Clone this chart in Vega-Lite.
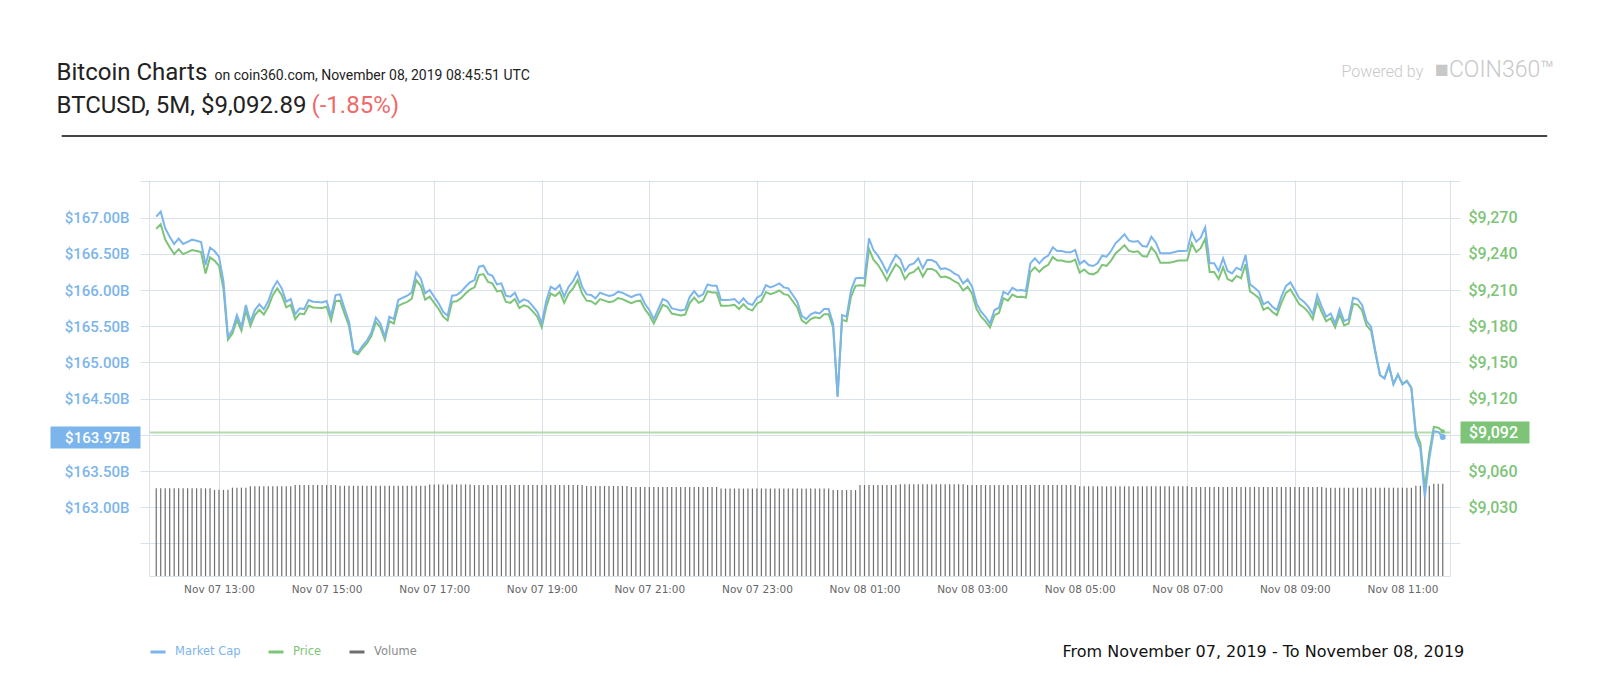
{
  "$schema": "https://vega.github.io/schema/vega-lite/v6.json",
  "width": 1301,
  "height": 396,
  "autosize": {"type": "none"},
  "padding": {"left": 149, "top": 180, "right": 150, "bottom": 124},
  "background": "#ffffff",
  "config": {"view": {"stroke": null}, "font": "Roboto"},
  "title": {"text": "■COIN360™", "anchor": "start", "frame": "group", "align": "left", "dx": 1286, "offset": -22, "font": "Roboto", "fontSize": 23, "fontWeight": 300, "color": "#c8c8c8"},
  "data": {"values": [
{"t":"2019-11-07T11:50","cap":167.014,"price":9260.8,"vol":20.15},
{"t":"2019-11-07T11:55","cap":167.083,"price":9264.6,"vol":20.15},
{"t":"2019-11-07T12:00","cap":166.853,"price":9251.8,"vol":20.15},
{"t":"2019-11-07T12:05","cap":166.737,"price":9245.4,"vol":20.15},
{"t":"2019-11-07T12:10","cap":166.636,"price":9239.8,"vol":20.15},
{"t":"2019-11-07T12:15","cap":166.710,"price":9243.9,"vol":20.15},
{"t":"2019-11-07T12:20","cap":166.636,"price":9239.8,"vol":20.15},
{"t":"2019-11-07T12:25","cap":166.664,"price":9241.4,"vol":20.15},
{"t":"2019-11-07T12:30","cap":166.696,"price":9243.1,"vol":20.15},
{"t":"2019-11-07T12:35","cap":166.682,"price":9242.4,"vol":20.15},
{"t":"2019-11-07T12:40","cap":166.664,"price":9241.4,"vol":20.15},
{"t":"2019-11-07T12:45","cap":166.346,"price":9223.7,"vol":20.15},
{"t":"2019-11-07T12:50","cap":166.585,"price":9237.0,"vol":20.15},
{"t":"2019-11-07T12:55","cap":166.539,"price":9234.4,"vol":19.8},
{"t":"2019-11-07T13:00","cap":166.461,"price":9230.1,"vol":19.8},
{"t":"2019-11-07T13:05","cap":166.115,"price":9210.9,"vol":19.8},
{"t":"2019-11-07T13:10","cap":165.355,"price":9168.8,"vol":19.8},
{"t":"2019-11-07T13:15","cap":165.447,"price":9173.9,"vol":20.3},
{"t":"2019-11-07T13:20","cap":165.654,"price":9185.3,"vol":20.3},
{"t":"2019-11-07T13:25","cap":165.493,"price":9176.4,"vol":20.3},
{"t":"2019-11-07T13:30","cap":165.793,"price":9193.1,"vol":20.3},
{"t":"2019-11-07T13:35","cap":165.562,"price":9180.2,"vol":20.6},
{"t":"2019-11-07T13:40","cap":165.724,"price":9189.2,"vol":20.6},
{"t":"2019-11-07T13:45","cap":165.802,"price":9193.6,"vol":20.6},
{"t":"2019-11-07T13:50","cap":165.733,"price":9189.7,"vol":20.6},
{"t":"2019-11-07T13:55","cap":165.848,"price":9196.1,"vol":20.6},
{"t":"2019-11-07T14:00","cap":166.023,"price":9205.8,"vol":20.6},
{"t":"2019-11-07T14:05","cap":166.124,"price":9211.4,"vol":20.6},
{"t":"2019-11-07T14:10","cap":166.023,"price":9205.8,"vol":20.6},
{"t":"2019-11-07T14:15","cap":165.839,"price":9195.6,"vol":20.6},
{"t":"2019-11-07T14:20","cap":165.876,"price":9197.7,"vol":20.6},
{"t":"2019-11-07T14:25","cap":165.664,"price":9185.9,"vol":20.9},
{"t":"2019-11-07T14:30","cap":165.747,"price":9190.5,"vol":20.9},
{"t":"2019-11-07T14:35","cap":165.737,"price":9190.0,"vol":20.9},
{"t":"2019-11-07T14:40","cap":165.862,"price":9196.9,"vol":20.9},
{"t":"2019-11-07T14:45","cap":165.839,"price":9195.6,"vol":20.9},
{"t":"2019-11-07T14:50","cap":165.834,"price":9195.3,"vol":20.9},
{"t":"2019-11-07T14:55","cap":165.829,"price":9195.1,"vol":20.9},
{"t":"2019-11-07T15:00","cap":165.848,"price":9196.1,"vol":20.9},
{"t":"2019-11-07T15:05","cap":165.645,"price":9184.8,"vol":20.9},
{"t":"2019-11-07T15:10","cap":165.931,"price":9200.7,"vol":20.9},
{"t":"2019-11-07T15:15","cap":165.940,"price":9201.2,"vol":20.75},
{"t":"2019-11-07T15:20","cap":165.747,"price":9190.5,"vol":20.75},
{"t":"2019-11-07T15:25","cap":165.562,"price":9180.2,"vol":20.75},
{"t":"2019-11-07T15:30","cap":165.171,"price":9158.6,"vol":20.75},
{"t":"2019-11-07T15:35","cap":165.138,"price":9156.7,"vol":20.75},
{"t":"2019-11-07T15:40","cap":165.230,"price":9161.8,"vol":20.75},
{"t":"2019-11-07T15:45","cap":165.300,"price":9165.7,"vol":20.75},
{"t":"2019-11-07T15:50","cap":165.415,"price":9172.1,"vol":20.75},
{"t":"2019-11-07T15:55","cap":165.618,"price":9183.4,"vol":20.75},
{"t":"2019-11-07T16:00","cap":165.539,"price":9179.0,"vol":20.75},
{"t":"2019-11-07T16:05","cap":165.355,"price":9168.8,"vol":20.75},
{"t":"2019-11-07T16:10","cap":165.631,"price":9184.1,"vol":20.75},
{"t":"2019-11-07T16:15","cap":165.599,"price":9182.3,"vol":20.75},
{"t":"2019-11-07T16:20","cap":165.862,"price":9196.9,"vol":20.75},
{"t":"2019-11-07T16:25","cap":165.894,"price":9198.7,"vol":20.75},
{"t":"2019-11-07T16:30","cap":165.922,"price":9200.2,"vol":20.75},
{"t":"2019-11-07T16:35","cap":165.968,"price":9202.8,"vol":20.75},
{"t":"2019-11-07T16:40","cap":166.244,"price":9218.1,"vol":20.75},
{"t":"2019-11-07T16:45","cap":166.161,"price":9213.5,"vol":20.75},
{"t":"2019-11-07T16:50","cap":165.954,"price":9202.0,"vol":20.75},
{"t":"2019-11-07T16:55","cap":166.000,"price":9204.5,"vol":21.05},
{"t":"2019-11-07T17:00","cap":165.908,"price":9199.4,"vol":21.05},
{"t":"2019-11-07T17:05","cap":165.816,"price":9194.3,"vol":21.05},
{"t":"2019-11-07T17:10","cap":165.700,"price":9187.9,"vol":21.05},
{"t":"2019-11-07T17:15","cap":165.645,"price":9184.8,"vol":21.05},
{"t":"2019-11-07T17:20","cap":165.922,"price":9200.2,"vol":21.05},
{"t":"2019-11-07T17:25","cap":165.931,"price":9200.7,"vol":21.05},
{"t":"2019-11-07T17:30","cap":165.977,"price":9203.3,"vol":21.05},
{"t":"2019-11-07T17:35","cap":166.046,"price":9207.1,"vol":21.05},
{"t":"2019-11-07T17:40","cap":166.106,"price":9210.4,"vol":21.05},
{"t":"2019-11-07T17:45","cap":166.138,"price":9212.2,"vol":20.9},
{"t":"2019-11-07T17:50","cap":166.323,"price":9222.4,"vol":20.9},
{"t":"2019-11-07T17:55","cap":166.336,"price":9223.2,"vol":20.9},
{"t":"2019-11-07T18:00","cap":166.221,"price":9216.8,"vol":20.9},
{"t":"2019-11-07T18:05","cap":166.198,"price":9215.5,"vol":20.9},
{"t":"2019-11-07T18:10","cap":166.078,"price":9208.9,"vol":20.9},
{"t":"2019-11-07T18:15","cap":166.092,"price":9209.6,"vol":20.9},
{"t":"2019-11-07T18:20","cap":165.922,"price":9200.2,"vol":20.9},
{"t":"2019-11-07T18:25","cap":165.908,"price":9199.4,"vol":20.9},
{"t":"2019-11-07T18:30","cap":165.963,"price":9202.5,"vol":20.9},
{"t":"2019-11-07T18:35","cap":165.829,"price":9195.1,"vol":20.9},
{"t":"2019-11-07T18:40","cap":165.871,"price":9197.4,"vol":20.9},
{"t":"2019-11-07T18:45","cap":165.848,"price":9196.1,"vol":20.9},
{"t":"2019-11-07T18:50","cap":165.779,"price":9192.3,"vol":20.9},
{"t":"2019-11-07T18:55","cap":165.700,"price":9187.9,"vol":20.9},
{"t":"2019-11-07T19:00","cap":165.539,"price":9179.0,"vol":20.9},
{"t":"2019-11-07T19:05","cap":165.848,"price":9196.1,"vol":20.9},
{"t":"2019-11-07T19:10","cap":166.046,"price":9207.1,"vol":20.9},
{"t":"2019-11-07T19:15","cap":166.009,"price":9205.0,"vol":20.9},
{"t":"2019-11-07T19:20","cap":166.069,"price":9208.4,"vol":20.9},
{"t":"2019-11-07T19:25","cap":165.908,"price":9199.4,"vol":20.9},
{"t":"2019-11-07T19:30","cap":166.046,"price":9207.1,"vol":20.9},
{"t":"2019-11-07T19:35","cap":166.124,"price":9211.4,"vol":20.9},
{"t":"2019-11-07T19:40","cap":166.244,"price":9218.1,"vol":20.9},
{"t":"2019-11-07T19:45","cap":166.046,"price":9207.1,"vol":20.9},
{"t":"2019-11-07T19:50","cap":165.940,"price":9201.2,"vol":20.7},
{"t":"2019-11-07T19:55","cap":165.931,"price":9200.7,"vol":20.7},
{"t":"2019-11-07T20:00","cap":165.885,"price":9198.2,"vol":20.7},
{"t":"2019-11-07T20:05","cap":165.963,"price":9202.5,"vol":20.7},
{"t":"2019-11-07T20:10","cap":165.940,"price":9201.2,"vol":20.7},
{"t":"2019-11-07T20:15","cap":165.917,"price":9199.9,"vol":20.7},
{"t":"2019-11-07T20:20","cap":165.931,"price":9200.7,"vol":20.7},
{"t":"2019-11-07T20:25","cap":165.977,"price":9203.3,"vol":20.7},
{"t":"2019-11-07T20:30","cap":165.963,"price":9202.5,"vol":20.7},
{"t":"2019-11-07T20:35","cap":165.931,"price":9200.7,"vol":20.7},
{"t":"2019-11-07T20:40","cap":165.903,"price":9199.2,"vol":20.45},
{"t":"2019-11-07T20:45","cap":165.931,"price":9200.7,"vol":20.45},
{"t":"2019-11-07T20:50","cap":165.940,"price":9201.2,"vol":20.45},
{"t":"2019-11-07T20:55","cap":165.811,"price":9194.1,"vol":20.45},
{"t":"2019-11-07T21:00","cap":165.724,"price":9189.2,"vol":20.45},
{"t":"2019-11-07T21:05","cap":165.599,"price":9182.3,"vol":20.45},
{"t":"2019-11-07T21:10","cap":165.737,"price":9190.0,"vol":20.45},
{"t":"2019-11-07T21:15","cap":165.876,"price":9197.7,"vol":20.45},
{"t":"2019-11-07T21:20","cap":165.848,"price":9196.1,"vol":20.45},
{"t":"2019-11-07T21:25","cap":165.747,"price":9190.5,"vol":20.45},
{"t":"2019-11-07T21:30","cap":165.733,"price":9189.7,"vol":20.45},
{"t":"2019-11-07T21:35","cap":165.719,"price":9189.0,"vol":20.45},
{"t":"2019-11-07T21:40","cap":165.733,"price":9189.7,"vol":20.45},
{"t":"2019-11-07T21:45","cap":165.903,"price":9199.2,"vol":20.45},
{"t":"2019-11-07T21:50","cap":165.986,"price":9203.8,"vol":20.45},
{"t":"2019-11-07T21:55","cap":165.908,"price":9199.4,"vol":20.45},
{"t":"2019-11-07T22:00","cap":165.940,"price":9201.2,"vol":20.45},
{"t":"2019-11-07T22:05","cap":166.078,"price":9208.9,"vol":20.45},
{"t":"2019-11-07T22:10","cap":166.060,"price":9207.9,"vol":20.45},
{"t":"2019-11-07T22:15","cap":166.060,"price":9207.9,"vol":20.45},
{"t":"2019-11-07T22:20","cap":165.862,"price":9196.9,"vol":20.1},
{"t":"2019-11-07T22:25","cap":165.862,"price":9196.9,"vol":20.1},
{"t":"2019-11-07T22:30","cap":165.866,"price":9197.1,"vol":20.1},
{"t":"2019-11-07T22:35","cap":165.876,"price":9197.7,"vol":20.1},
{"t":"2019-11-07T22:40","cap":165.816,"price":9194.3,"vol":20.1},
{"t":"2019-11-07T22:45","cap":165.885,"price":9198.2,"vol":20.1},
{"t":"2019-11-07T22:50","cap":165.816,"price":9194.3,"vol":20.1},
{"t":"2019-11-07T22:55","cap":165.793,"price":9193.1,"vol":20.1},
{"t":"2019-11-07T23:00","cap":165.894,"price":9198.7,"vol":20.1},
{"t":"2019-11-07T23:05","cap":165.931,"price":9200.7,"vol":20.1},
{"t":"2019-11-07T23:10","cap":166.069,"price":9208.4,"vol":20.1},
{"t":"2019-11-07T23:15","cap":166.037,"price":9206.6,"vol":20.1},
{"t":"2019-11-07T23:20","cap":166.060,"price":9207.9,"vol":20.1},
{"t":"2019-11-07T23:25","cap":166.092,"price":9209.6,"vol":20.1},
{"t":"2019-11-07T23:30","cap":166.037,"price":9206.6,"vol":20.1},
{"t":"2019-11-07T23:35","cap":166.023,"price":9205.8,"vol":20.1},
{"t":"2019-11-07T23:40","cap":165.931,"price":9200.7,"vol":20.1},
{"t":"2019-11-07T23:45","cap":165.839,"price":9195.6,"vol":20.1},
{"t":"2019-11-07T23:50","cap":165.645,"price":9184.8,"vol":20.1},
{"t":"2019-11-07T23:55","cap":165.599,"price":9182.3,"vol":20.1},
{"t":"2019-11-08T00:00","cap":165.664,"price":9185.9,"vol":20.1},
{"t":"2019-11-08T00:05","cap":165.691,"price":9187.4,"vol":20.1},
{"t":"2019-11-08T00:10","cap":165.677,"price":9186.6,"vol":20.1},
{"t":"2019-11-08T00:15","cap":165.737,"price":9190.0,"vol":20.1},
{"t":"2019-11-08T00:20","cap":165.737,"price":9190.0,"vol":20.1},
{"t":"2019-11-08T00:25","cap":165.539,"price":9179.0,"vol":19.75},
{"t":"2019-11-08T00:30","cap":164.525,"price":9122.7,"vol":19.75},
{"t":"2019-11-08T00:35","cap":165.654,"price":9185.3,"vol":19.75},
{"t":"2019-11-08T00:40","cap":165.631,"price":9184.1,"vol":19.75},
{"t":"2019-11-08T00:45","cap":166.000,"price":9204.5,"vol":19.75},
{"t":"2019-11-08T00:50","cap":166.161,"price":9213.5,"vol":19.75},
{"t":"2019-11-08T00:55","cap":166.171,"price":9214.0,"vol":20.9},
{"t":"2019-11-08T01:00","cap":166.161,"price":9213.5,"vol":20.9},
{"t":"2019-11-08T01:05","cap":166.714,"price":9244.1,"vol":20.9},
{"t":"2019-11-08T01:10","cap":166.553,"price":9235.2,"vol":20.9},
{"t":"2019-11-08T01:15","cap":166.475,"price":9230.9,"vol":20.9},
{"t":"2019-11-08T01:20","cap":166.369,"price":9225.0,"vol":20.9},
{"t":"2019-11-08T01:25","cap":166.244,"price":9218.1,"vol":20.9},
{"t":"2019-11-08T01:30","cap":166.369,"price":9225.0,"vol":20.9},
{"t":"2019-11-08T01:35","cap":166.484,"price":9231.4,"vol":20.9},
{"t":"2019-11-08T01:40","cap":166.424,"price":9228.0,"vol":21.1},
{"t":"2019-11-08T01:45","cap":166.263,"price":9219.1,"vol":21.1},
{"t":"2019-11-08T01:50","cap":166.346,"price":9223.7,"vol":21.1},
{"t":"2019-11-08T01:55","cap":166.369,"price":9225.0,"vol":21.1},
{"t":"2019-11-08T02:00","cap":166.438,"price":9228.8,"vol":21.1},
{"t":"2019-11-08T02:05","cap":166.300,"price":9221.2,"vol":21.1},
{"t":"2019-11-08T02:10","cap":166.415,"price":9227.5,"vol":21.1},
{"t":"2019-11-08T02:15","cap":166.415,"price":9227.5,"vol":21.1},
{"t":"2019-11-08T02:20","cap":166.382,"price":9225.7,"vol":21.1},
{"t":"2019-11-08T02:25","cap":166.290,"price":9220.6,"vol":21.1},
{"t":"2019-11-08T02:30","cap":166.300,"price":9221.2,"vol":21.1},
{"t":"2019-11-08T02:35","cap":166.276,"price":9219.8,"vol":21.1},
{"t":"2019-11-08T02:40","cap":166.230,"price":9217.3,"vol":21.1},
{"t":"2019-11-08T02:45","cap":166.198,"price":9215.5,"vol":21.1},
{"t":"2019-11-08T02:50","cap":166.092,"price":9209.6,"vol":21.1},
{"t":"2019-11-08T02:55","cap":166.147,"price":9212.7,"vol":20.9},
{"t":"2019-11-08T03:00","cap":166.046,"price":9207.1,"vol":20.9},
{"t":"2019-11-08T03:05","cap":165.816,"price":9194.3,"vol":20.9},
{"t":"2019-11-08T03:10","cap":165.700,"price":9187.9,"vol":20.9},
{"t":"2019-11-08T03:15","cap":165.631,"price":9184.1,"vol":20.9},
{"t":"2019-11-08T03:20","cap":165.539,"price":9179.0,"vol":20.9},
{"t":"2019-11-08T03:25","cap":165.724,"price":9189.2,"vol":20.9},
{"t":"2019-11-08T03:30","cap":165.756,"price":9191.0,"vol":20.9},
{"t":"2019-11-08T03:35","cap":165.977,"price":9203.3,"vol":20.9},
{"t":"2019-11-08T03:40","cap":165.940,"price":9201.2,"vol":20.9},
{"t":"2019-11-08T03:45","cap":166.032,"price":9206.3,"vol":20.9},
{"t":"2019-11-08T03:50","cap":165.995,"price":9204.3,"vol":20.9},
{"t":"2019-11-08T03:55","cap":166.000,"price":9204.5,"vol":20.9},
{"t":"2019-11-08T04:00","cap":165.986,"price":9203.8,"vol":20.9},
{"t":"2019-11-08T04:05","cap":166.369,"price":9225.0,"vol":20.9},
{"t":"2019-11-08T04:10","cap":166.438,"price":9228.8,"vol":20.9},
{"t":"2019-11-08T04:15","cap":166.369,"price":9225.0,"vol":20.9},
{"t":"2019-11-08T04:20","cap":166.438,"price":9228.8,"vol":20.9},
{"t":"2019-11-08T04:25","cap":166.475,"price":9230.9,"vol":20.9},
{"t":"2019-11-08T04:30","cap":166.590,"price":9237.3,"vol":20.9},
{"t":"2019-11-08T04:35","cap":166.539,"price":9234.4,"vol":20.9},
{"t":"2019-11-08T04:40","cap":166.539,"price":9234.4,"vol":20.9},
{"t":"2019-11-08T04:45","cap":166.521,"price":9233.4,"vol":20.9},
{"t":"2019-11-08T04:50","cap":166.521,"price":9233.4,"vol":20.9},
{"t":"2019-11-08T04:55","cap":166.553,"price":9235.2,"vol":20.9},
{"t":"2019-11-08T05:00","cap":166.359,"price":9224.4,"vol":20.6},
{"t":"2019-11-08T05:05","cap":166.406,"price":9227.0,"vol":20.6},
{"t":"2019-11-08T05:10","cap":166.346,"price":9223.7,"vol":20.6},
{"t":"2019-11-08T05:15","cap":166.332,"price":9223.0,"vol":20.6},
{"t":"2019-11-08T05:20","cap":166.369,"price":9225.0,"vol":20.6},
{"t":"2019-11-08T05:25","cap":166.475,"price":9230.9,"vol":20.6},
{"t":"2019-11-08T05:30","cap":166.461,"price":9230.1,"vol":20.6},
{"t":"2019-11-08T05:35","cap":166.539,"price":9234.4,"vol":20.6},
{"t":"2019-11-08T05:40","cap":166.645,"price":9240.3,"vol":20.6},
{"t":"2019-11-08T05:45","cap":166.705,"price":9243.6,"vol":20.6},
{"t":"2019-11-08T05:50","cap":166.770,"price":9247.2,"vol":20.6},
{"t":"2019-11-08T05:55","cap":166.682,"price":9242.4,"vol":20.6},
{"t":"2019-11-08T06:00","cap":166.668,"price":9241.6,"vol":20.6},
{"t":"2019-11-08T06:05","cap":166.677,"price":9242.1,"vol":20.6},
{"t":"2019-11-08T06:10","cap":166.608,"price":9238.2,"vol":20.6},
{"t":"2019-11-08T06:15","cap":166.599,"price":9237.7,"vol":20.6},
{"t":"2019-11-08T06:20","cap":166.737,"price":9245.4,"vol":20.6},
{"t":"2019-11-08T06:25","cap":166.654,"price":9240.8,"vol":20.6},
{"t":"2019-11-08T06:30","cap":166.507,"price":9232.6,"vol":20.6},
{"t":"2019-11-08T06:35","cap":166.507,"price":9232.6,"vol":20.6},
{"t":"2019-11-08T06:40","cap":166.507,"price":9232.6,"vol":20.6},
{"t":"2019-11-08T06:45","cap":166.521,"price":9233.4,"vol":20.6},
{"t":"2019-11-08T06:50","cap":166.539,"price":9234.4,"vol":20.6},
{"t":"2019-11-08T06:55","cap":166.539,"price":9234.4,"vol":20.6},
{"t":"2019-11-08T07:00","cap":166.544,"price":9234.7,"vol":20.6},
{"t":"2019-11-08T07:05","cap":166.797,"price":9248.7,"vol":20.45},
{"t":"2019-11-08T07:10","cap":166.668,"price":9241.6,"vol":20.45},
{"t":"2019-11-08T07:15","cap":166.724,"price":9244.7,"vol":20.45},
{"t":"2019-11-08T07:20","cap":166.866,"price":9252.6,"vol":20.45},
{"t":"2019-11-08T07:25","cap":166.369,"price":9225.0,"vol":20.45},
{"t":"2019-11-08T07:30","cap":166.369,"price":9225.0,"vol":20.45},
{"t":"2019-11-08T07:35","cap":166.263,"price":9219.1,"vol":20.45},
{"t":"2019-11-08T07:40","cap":166.438,"price":9228.8,"vol":20.45},
{"t":"2019-11-08T07:45","cap":166.263,"price":9219.1,"vol":20.45},
{"t":"2019-11-08T07:50","cap":166.230,"price":9217.3,"vol":20.45},
{"t":"2019-11-08T07:55","cap":166.309,"price":9221.7,"vol":20.45},
{"t":"2019-11-08T08:00","cap":166.276,"price":9219.8,"vol":20.45},
{"t":"2019-11-08T08:05","cap":166.484,"price":9231.4,"vol":20.45},
{"t":"2019-11-08T08:10","cap":166.078,"price":9208.9,"vol":20.45},
{"t":"2019-11-08T08:15","cap":166.032,"price":9206.3,"vol":20.45},
{"t":"2019-11-08T08:20","cap":165.977,"price":9203.3,"vol":20.45},
{"t":"2019-11-08T08:25","cap":165.802,"price":9193.6,"vol":20.45},
{"t":"2019-11-08T08:30","cap":165.839,"price":9195.6,"vol":20.45},
{"t":"2019-11-08T08:35","cap":165.770,"price":9191.8,"vol":20.45},
{"t":"2019-11-08T08:40","cap":165.724,"price":9189.2,"vol":20.45},
{"t":"2019-11-08T08:45","cap":165.908,"price":9199.4,"vol":20.45},
{"t":"2019-11-08T08:50","cap":166.055,"price":9207.6,"vol":20.45},
{"t":"2019-11-08T08:55","cap":166.106,"price":9210.4,"vol":20.45},
{"t":"2019-11-08T09:00","cap":166.000,"price":9204.5,"vol":20.45},
{"t":"2019-11-08T09:05","cap":165.885,"price":9198.2,"vol":20.45},
{"t":"2019-11-08T09:10","cap":165.839,"price":9195.6,"vol":20.45},
{"t":"2019-11-08T09:15","cap":165.770,"price":9191.8,"vol":20.45},
{"t":"2019-11-08T09:20","cap":165.664,"price":9185.9,"vol":20.45},
{"t":"2019-11-08T09:25","cap":165.931,"price":9200.7,"vol":20.45},
{"t":"2019-11-08T09:30","cap":165.770,"price":9191.8,"vol":20.45},
{"t":"2019-11-08T09:35","cap":165.631,"price":9184.1,"vol":20.3},
{"t":"2019-11-08T09:40","cap":165.677,"price":9186.6,"vol":20.3},
{"t":"2019-11-08T09:45","cap":165.539,"price":9179.0,"vol":20.3},
{"t":"2019-11-08T09:50","cap":165.737,"price":9190.0,"vol":20.3},
{"t":"2019-11-08T09:55","cap":165.571,"price":9180.7,"vol":20.3},
{"t":"2019-11-08T10:00","cap":165.599,"price":9182.3,"vol":20.3},
{"t":"2019-11-08T10:05","cap":165.894,"price":9198.7,"vol":20.3},
{"t":"2019-11-08T10:10","cap":165.876,"price":9197.7,"vol":20.3},
{"t":"2019-11-08T10:15","cap":165.793,"price":9193.1,"vol":20.3},
{"t":"2019-11-08T10:20","cap":165.571,"price":9180.7,"vol":20.3},
{"t":"2019-11-08T10:25","cap":165.493,"price":9176.4,"vol":20.3},
{"t":"2019-11-08T10:30","cap":165.147,"price":9157.2,"vol":20.3},
{"t":"2019-11-08T10:35","cap":164.825,"price":9139.4,"vol":20.3},
{"t":"2019-11-08T10:40","cap":164.779,"price":9136.8,"vol":20.3},
{"t":"2019-11-08T10:45","cap":164.963,"price":9147.0,"vol":20.3},
{"t":"2019-11-08T10:50","cap":164.696,"price":9132.2,"vol":20.3},
{"t":"2019-11-08T10:55","cap":164.834,"price":9139.9,"vol":20.3},
{"t":"2019-11-08T11:00","cap":164.696,"price":9132.2,"vol":20.3},
{"t":"2019-11-08T11:05","cap":164.742,"price":9134.8,"vol":20.3},
{"t":"2019-11-08T11:10","cap":164.641,"price":9129.2,"vol":20.3},
{"t":"2019-11-08T11:15","cap":163.972,"price":9092.1,"vol":20.75},
{"t":"2019-11-08T11:20","cap":163.811,"price":9083.2,"vol":20.75},
{"t":"2019-11-08T11:25","cap":163.143,"price":9046.1,"vol":20.75},
{"t":"2019-11-08T11:30","cap":163.673,"price":9075.5,"vol":20.75},
{"t":"2019-11-08T11:35","cap":164.051,"price":9096.5,"vol":21.2},
{"t":"2019-11-08T11:40","cap":164.041,"price":9095.9,"vol":21.2},
{"t":"2019-11-08T11:45","cap":163.970,"price":9092.9,"vol":21.2}
  ]},
  "layer": [
    {
      "layer": [
        {
          "mark": {"type": "bar", "width": 1.2, "color": "#6f6f6f"},
          "encoding": {
            "x": {
              "field": "t", "type": "temporal",
              "scale": {"domain": [{"year": 2019, "month": 11, "date": 7, "hours": 11, "minutes": 47, "seconds": 30}, {"year": 2019, "month": 11, "date": 8, "hours": 11, "minutes": 47, "seconds": 30}]},
              "axis": {
                "values": [
                  {"year": 2019, "month": 11, "date": 7, "hours": 13},
                  {"year": 2019, "month": 11, "date": 7, "hours": 15},
                  {"year": 2019, "month": 11, "date": 7, "hours": 17},
                  {"year": 2019, "month": 11, "date": 7, "hours": 19},
                  {"year": 2019, "month": 11, "date": 7, "hours": 21},
                  {"year": 2019, "month": 11, "date": 7, "hours": 23},
                  {"year": 2019, "month": 11, "date": 8, "hours": 1},
                  {"year": 2019, "month": 11, "date": 8, "hours": 3},
                  {"year": 2019, "month": 11, "date": 8, "hours": 5},
                  {"year": 2019, "month": 11, "date": 8, "hours": 7},
                  {"year": 2019, "month": 11, "date": 8, "hours": 9},
                  {"year": 2019, "month": 11, "date": 8, "hours": 11}
                ],
                "format": "%b %d %H:%M",
                "labelColor": "#666666", "labelFont": "DejaVu Sans", "labelFontSize": 10.5, "labelPadding": 8,
                "labelOverlap": false, "labelFlush": false,
                "ticks": false, "domain": true, "domainColor": "#d9e2ea", "grid": true, "gridColor": "#d9e2ea",
                "title": "From November 07, 2019 - To November 08, 2019",
                "titleX": 913, "titleY": 80, "titleAlign": "left", "titleBaseline": "alphabetic", "titleAngle": 0,
                "titleFont": "DejaVu Sans", "titleFontSize": 16, "titleFontWeight": "normal", "titleColor": "#111111"
              }
            },
            "y": {
              "field": "vol", "type": "quantitative",
              "scale": {"domain": [0, 91], "nice": false},
              "axis": {
                "orient": "right", "labels": false, "ticks": false, "domain": false, "grid": false,
                "title": "Powered by", "titleX": -109, "titleY": -104, "titleAngle": 0, "titleAlign": "left", "titleBaseline": "alphabetic",
                "titleFont": "Roboto", "titleFontSize": 16, "titleFontWeight": 300, "titleColor": "#c8c8c8"
              }
            }
          }
        },
        {
          "data": {"values": [{}]},
          "mark": {"type": "rule", "clip": false, "color": "#444444", "strokeWidth": 2},
          "encoding": {
            "x": {"datum": {"year": 2019, "month": 11, "date": 7, "hours": 10, "minutes": 4, "seconds": 34}, "type": "temporal"},
            "x2": {"datum": {"year": 2019, "month": 11, "date": 8, "hours": 13, "minutes": 41, "seconds": 30}},
            "y": {"datum": 101.1, "type": "quantitative"}
          }
        }
      ]
    },
    {
      "layer": [
        {
          "mark": {"type": "line", "strokeWidth": 2, "color": "#7ec478"},
          "encoding": {
            "x": {"field": "t", "type": "temporal"},
            "y": {
              "field": "price", "type": "quantitative",
              "scale": {"domain": [8973, 9301.2], "nice": false, "zero": false},
              "axis": {
                "orient": "right",
                "values": [9000, 9030, 9060, 9090, 9120, 9150, 9180, 9210, 9240, 9270, 9300],
                "labelExpr": "datum.value === 9000 || datum.value === 9090 || datum.value === 9300 ? '' : format(datum.value, '$,.0f')",
                "grid": false, "domain": true, "domainColor": "#d9e2ea", "ticks": true, "tickSize": 10, "tickColor": "#d9e2ea",
                "labelPadding": 8, "labelFont": "Roboto", "labelFontSize": 16, "labelFontWeight": 500, "labelColor": "#7ec478",
                "labelOverlap": false, "labelFlush": false, "labelBound": false,
                "title": "BTCUSD, 5M, $9,092.89", "titleX": -1394, "titleY": -68, "titleAngle": 0, "titleAlign": "left", "titleBaseline": "alphabetic",
                "titleFont": "Roboto", "titleFontSize": 24, "titleFontWeight": "normal", "titleColor": "#222222"
              }
            }
          }
        },
        {
          "transform": [{"filter": {"field": "t", "equal": {"year": 2019, "month": 11, "date": 8, "hours": 11, "minutes": 45}}}],
          "mark": {"type": "point", "filled": true, "size": 18, "opacity": 1, "color": "#7ec478"},
          "encoding": {
            "x": {"field": "t", "type": "temporal"},
            "y": {
              "field": "price", "type": "quantitative",
              "axis": {
                "orient": "right", "offset": 10, "values": [9092],
                "labelExpr": "format(datum.value, '$,.0f')",
                "grid": true, "gridColor": "#b3dbab", "gridWidth": 2,
                "domain": false, "ticks": true, "tickSize": 69, "tickWidth": 22, "tickColor": "#7ec478", "tickCap": "butt",
                "labelAlign": "center", "labelBaseline": "middle", "labelPadding": -36,
                "labelFont": "Roboto", "labelFontSize": 16, "labelFontWeight": 500, "labelColor": "#ffffff",
                "labelOverlap": false, "labelFlush": false, "labelBound": false,
                "title": "(-1.85%)", "titleX": -1149, "titleY": -68, "titleAngle": 0, "titleAlign": "left", "titleBaseline": "alphabetic",
                "titleFont": "Roboto", "titleFontSize": 24, "titleFontWeight": "normal", "titleColor": "#ee6a6a"
              }
            }
          }
        }
      ],
      "resolve": {"axis": {"y": "independent"}}
    },
    {
      "layer": [
        {
          "mark": {"type": "line", "strokeWidth": 2},
          "encoding": {
            "x": {"field": "t", "type": "temporal"},
            "y": {
              "field": "cap", "type": "quantitative",
              "scale": {"domain": [162.05, 167.52], "nice": false, "zero": false},
              "axis": {
                "orient": "left",
                "values": [162.5, 163, 163.5, 164, 164.5, 165, 165.5, 166, 166.5, 167, 167.5],
                "labelExpr": "datum.value === 162.5 || datum.value === 164 || datum.value === 167.5 ? '' : '$' + format(datum.value, '.2f') + 'B'",
                "grid": true, "gridColor": "#d9e2ea", "gridWidth": 1,
                "domain": true, "domainColor": "#d9e2ea", "ticks": true, "tickSize": 9, "tickColor": "#d9e2ea",
                "labelPadding": 11, "labelFont": "Roboto", "labelFontSize": 15, "labelFontWeight": 500, "labelColor": "#7cb5ec",
                "labelOverlap": false, "labelFlush": false, "labelBound": false,
                "title": "Bitcoin Charts", "titleX": -93, "titleY": -101, "titleAngle": 0, "titleAlign": "left", "titleBaseline": "alphabetic",
                "titleFont": "Roboto", "titleFontSize": 24, "titleFontWeight": "normal", "titleColor": "#222222"
              }
            },
            "color": {
              "datum": "Market Cap", "type": "nominal",
              "scale": {"domain": ["Market Cap", "Price", "Volume"], "range": ["#7cb5ec", "#7ec478", "#6f6f6f"]},
              "legend": {
                "orient": "none", "legendX": 0, "legendY": 463, "direction": "horizontal", "title": null, "padding": 0,
                "symbolType": "stroke", "symbolSize": 225, "symbolStrokeWidth": 3,
                "labelFont": "DejaVu Sans", "labelFontSize": 11.5, "labelOffset": 8, "columnPadding": 21,
                "labelColor": {"expr": "datum.label === 'Market Cap' ? '#7cb5ec' : datum.label === 'Price' ? '#7ec478' : '#8c8c8c'"}
              }
            }
          }
        },
        {
          "transform": [{"filter": {"field": "t", "equal": {"year": 2019, "month": 11, "date": 8, "hours": 11, "minutes": 45}}}],
          "mark": {"type": "point", "filled": true, "size": 36, "opacity": 1, "color": "#7cb5ec"},
          "encoding": {
            "x": {"field": "t", "type": "temporal"},
            "y": {
              "field": "cap", "type": "quantitative",
              "axis": {
                "orient": "left", "offset": 9, "values": [163.97],
                "labelExpr": "'$' + format(datum.value, '.2f') + 'B'",
                "grid": false, "domain": false, "ticks": true, "tickSize": 90, "tickWidth": 22, "tickColor": "#7cb5ec", "tickCap": "butt",
                "labelAlign": "center", "labelBaseline": "middle", "labelPadding": -47,
                "labelFont": "Roboto", "labelFontSize": 15, "labelFontWeight": 500, "labelColor": "#ffffff",
                "labelOverlap": false, "labelFlush": false, "labelBound": false,
                "title": "on coin360.com, November 08, 2019 08:45:51 UTC", "titleX": 74, "titleY": -101, "titleAngle": 0, "titleAlign": "left", "titleBaseline": "alphabetic",
                "titleFont": "Roboto", "titleFontSize": 14, "titleFontWeight": "normal", "titleColor": "#222222"
              }
            }
          }
        }
      ],
      "resolve": {"axis": {"y": "independent"}}
    }
  ],
  "resolve": {"scale": {"y": "independent"}}
}
